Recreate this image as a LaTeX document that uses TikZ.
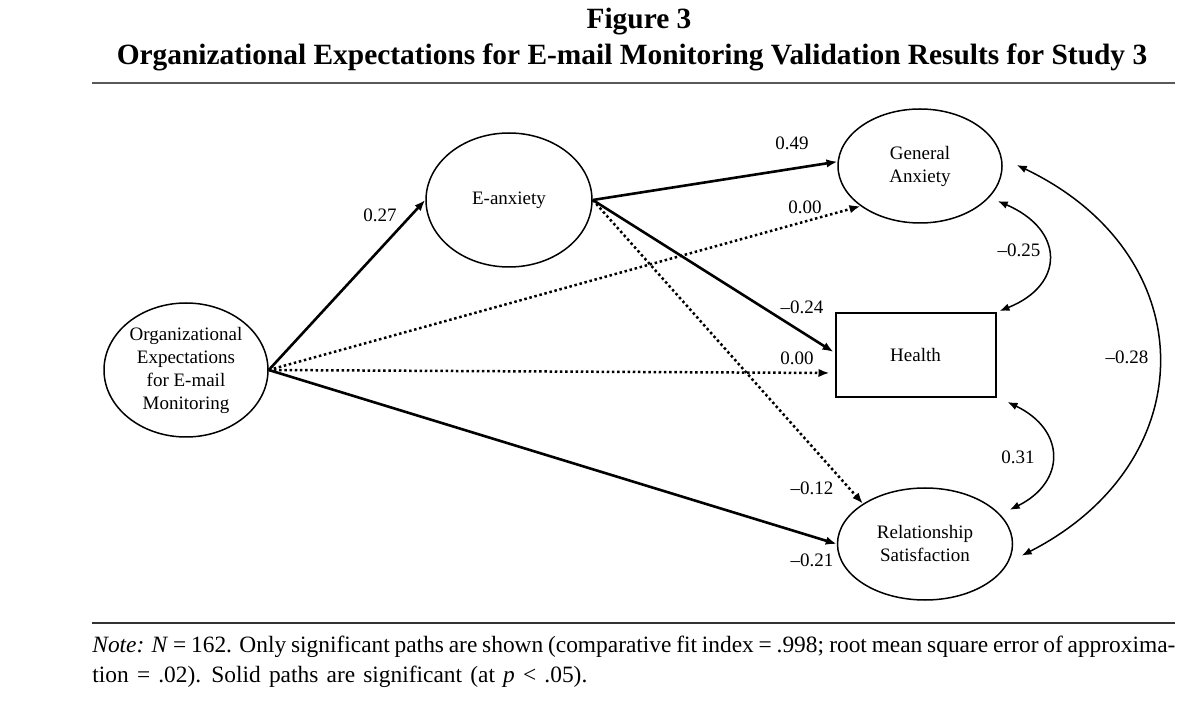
\documentclass[tikz,border=0pt]{standalone}
\usepackage{fontspec}
\setmainfont{Liberation Serif}
\usetikzlibrary{arrows.meta,shapes.geometric}
\begin{document}
\begin{tikzpicture}[x=0.5pt,y=-0.5pt,
  every node/.style={font=\fontsize{9.5}{11.5}\selectfont, inner sep=0pt},
  latent/.style={ellipse, draw, line width=0.75pt, align=center},
  obs/.style={rectangle, draw, line width=1pt, minimum width=80pt, minimum height=42pt},
  sigpath/.style={line width=1.3pt, -{Latex[length=5.5pt,width=4.2pt]}},
  nspath/.style={line width=1.25pt, dash pattern=on 1.25pt off 1.35pt, -{Latex[length=5.5pt,width=4.2pt]}},
  cov/.style={line width=0.75pt, {Latex[length=5pt,width=3.8pt]}-{Latex[length=5pt,width=3.8pt]}},
  titlefont/.style={font=\fontsize{14.7}{17}\selectfont\bfseries},
  notefont/.style={font=\fontsize{11.7}{14}\selectfont}]
\useasboundingbox (0,0) rectangle (1200,705);
\fill[white] (0,0) rectangle (1200,705);

% title and rules
\node[titlefont, anchor=base] (fig) at (639,29) {Figure 3};
\node[titlefont, anchor=base] (title) at (632,65) {Organizational Expectations for E-mail Monitoring Validation Results for Study 3};
\draw[line width=1.1pt, black!65] (92,83) -- (1175,83);
\draw[line width=0.8pt, black!80] (92,623) -- (1175,623);

% nodes
\node[latent, minimum width=82pt, minimum height=67pt] (org) at (186,370) {Organizational\\Expectations\\for E-mail\\Monitoring};
\node[latent, minimum width=83pt, minimum height=67pt] (ea) at (509,200) {E-anxiety};
\node[latent, minimum width=82pt, minimum height=57pt] (ga) at (920,166) {General\\Anxiety};
\node[obs] (hl) at (915.5,355) {Health};
\node[latent, minimum width=87.5pt, minimum height=56pt] (rs) at (925,544) {Relationship\\Satisfaction};

% paths
\draw[sigpath] (org.east) -- (ea.west);
\draw[nspath] (org.east) -- (ga.214);
\draw[nspath] (org.east) -- ([shift={(-5,18)}]hl.west);
\draw[sigpath] (org.east) -- (rs.west);
\draw[sigpath] (ea.east) -- (ga.177);
\draw[sigpath] (ea.east) -- ([shift={(-1,-3)}]hl.west);
\draw[nspath] (ea.east) -- (rs.147);

% covariances
\draw[cov] ([shift={(8,4)}]ga.-24) .. controls (1065,230) and (1065,285) .. ([shift={(3,-1)}]hl.north east);
\draw[cov] ([shift={(11,4)}]hl.south east) .. controls (1066,430) and (1066,482) .. ([shift={(10,-4)}]rs.22);
\draw[cov] ([shift={(14,-1)}]ga.east) .. controls (1205,255) and (1205,462) .. ([shift={(10,1)}]rs.-7);

% labels
\node (l1) at (380,215) {0.27};
\node (l2) at (792,143) {0.49};
\node (l3) at (805,207) {0.00};
\node (l4) at (802,307) {–0.24};
\node (l5) at (797,358) {0.00};
\node (l6) at (812,488) {–0.12};
\node (l7) at (812,560) {–0.21};
\node (l8) at (1019,250) {–0.25};
\node (l9) at (1018,457) {0.31};
\node (l10) at (1127,357) {–0.28};

% note
\node[notefont, anchor=base west] (note1) at (92,653) {\makebox[541.5pt][s]{\textit{Note:} \textit{N} = 162. Only significant paths are shown (comparative fit index = .998; root mean square error of approxima-}};
\node[notefont, anchor=base west] (note2) at (92,682) {\spaceskip=1.4\fontdimen2\font tion = .02). Solid paths are significant (at \textit{p} < .05).};
\end{tikzpicture}
\end{document}
